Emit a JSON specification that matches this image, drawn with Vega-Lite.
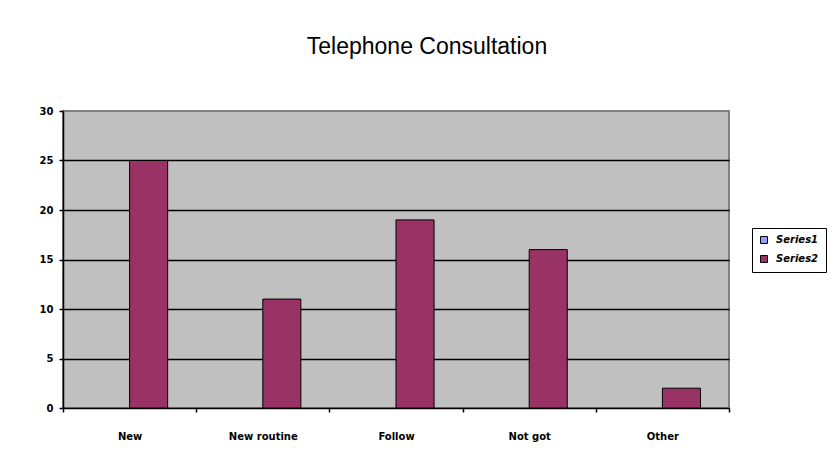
{
  "$schema": "https://vega.github.io/schema/vega-lite/v6.json",
  "autosize": "none",
  "width": 666,
  "height": 297,
  "padding": {"left": 63, "top": 111, "right": 109, "bottom": 64},
  "background": "white",
  "title": {
    "text": "Telephone Consultation",
    "font": "Liberation Sans",
    "fontSize": 23,
    "fontWeight": "normal",
    "color": "black",
    "anchor": "middle",
    "dx": 31,
    "offset": 47
  },
  "data": {
    "values": [
      {"category": "New", "series": "Series1", "value": 0},
      {"category": "New", "series": "Series2", "value": 25},
      {"category": "New routine", "series": "Series1", "value": 0},
      {"category": "New routine", "series": "Series2", "value": 11},
      {"category": "Follow", "series": "Series1", "value": 0},
      {"category": "Follow", "series": "Series2", "value": 19},
      {"category": "Not got", "series": "Series1", "value": 0},
      {"category": "Not got", "series": "Series2", "value": 16},
      {"category": "Other", "series": "Series1", "value": 0},
      {"category": "Other", "series": "Series2", "value": 2}
    ]
  },
  "mark": {"type": "bar", "stroke": "black"},
  "encoding": {
    "x": {
      "field": "category",
      "type": "nominal",
      "sort": ["New", "New routine", "Follow", "Not got", "Other"],
      "scale": {"paddingInner": 0, "paddingOuter": 0},
      "axis": {
        "title": null,
        "labelAngle": 0,
        "tickBand": "extent",
        "domainColor": "black",
        "tickColor": "black",
        "tickSize": 4,
        "labelFont": "DejaVu Sans",
        "labelFontSize": 10,
        "labelFontWeight": "bold",
        "labelColor": "black",
        "labelPadding": 19,
        "grid": false
      }
    },
    "xOffset": {
      "field": "series",
      "type": "nominal",
      "scale": {"paddingInner": 0, "paddingOuter": 0.75}
    },
    "y": {
      "field": "value",
      "type": "quantitative",
      "scale": {"domain": [0, 30], "nice": false},
      "axis": {
        "title": null,
        "values": [0, 5, 10, 15, 20, 25, 30],
        "domainColor": "black",
        "tickColor": "black",
        "tickSize": 4,
        "labelFont": "DejaVu Sans",
        "labelFontSize": 10,
        "labelFontWeight": "bold",
        "labelColor": "black",
        "labelPadding": 6,
        "grid": true,
        "gridColor": {"condition": {"test": "datum.value == 30 || datum.value == 0", "value": "transparent"}, "value": "black"},
        "gridWidth": 1.5,
        "gridOpacity": 1
      }
    },
    "strokeWidth": {
      "condition": {"test": "datum.value == 0", "value": 0},
      "value": 1
    },
    "color": {
      "field": "series",
      "type": "nominal",
      "scale": {"domain": ["Series1", "Series2"], "range": ["#9999FF", "#993366"]},
      "legend": {
        "title": null,
        "orient": "none",
        "legendX": 689,
        "legendY": 117,
        "strokeColor": "black",
        "padding": 7,
        "rowPadding": 7,
        "symbolType": "square",
        "symbolSize": 49,
        "symbolStrokeColor": "black",
        "symbolStrokeWidth": 1,
        "symbolOpacity": 1,
        "labelFont": "DejaVu Sans",
        "labelFontSize": 10,
        "labelFontWeight": "bold",
        "labelFontStyle": "italic",
        "labelColor": "black",
        "labelOffset": 7
      }
    }
  },
  "config": {
    "view": {"fill": "#C0C0C0", "stroke": "#808080", "strokeWidth": 2},
    "axis": {"domainWidth": 1.5, "tickWidth": 1.5}
  }
}
